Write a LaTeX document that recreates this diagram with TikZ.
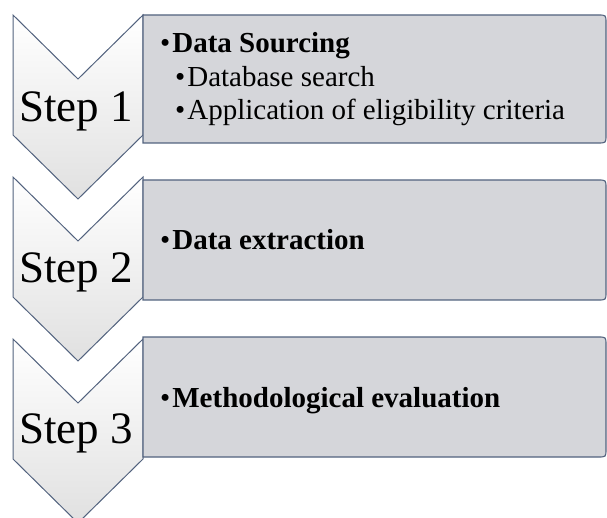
\documentclass[tikz,border=0pt]{standalone}
\usepackage{fontspec}
\setmainfont{Liberation Serif}
\definecolor{edge}{HTML}{52627E}
\definecolor{panel}{HTML}{D5D6DA}
\tikzset{
  chev/.style={draw=edge, line width=1pt, top color=white, middle color=white, bottom color=black!12, line join=miter},
  panelbox/.style={draw=edge, line width=1.1pt, fill=panel},
  steplabel/.style={font=\fontsize{45}{50}\selectfont, inner sep=0pt, anchor=base},
  itemtext/.style={font=\fontsize{29}{34}\selectfont, inner sep=0pt, anchor=base west},
}
% panel with square left corners and rounded right corners: #1 top, #2 bottom
\newcommand\panelpath[2]{%
  \path[panelbox] (143,#1) -- (598,#1) .. controls (606,#1) .. (606,#1+8)
    -- (606,#2-8) .. controls (606,#2) .. (598,#2) -- (143,#2) -- cycle;}
\begin{document}
\begin{tikzpicture}[x=1pt,y=-1pt]
\useasboundingbox (0,0) rectangle (607,518);
\clip (0,0) rectangle (607,518);
% chevrons
\foreach \t in {15,177,339}{
  \path[chev] (13,\t) -- (78,\t+64) -- (143,\t) -- (143,\t+120)
    -- (78,\t+184) -- (13,\t+120) -- cycle;
}
% panels
\panelpath{15}{143}
\panelpath{180}{300}
\panelpath{337}{457}
% step labels
\node[steplabel] (s1) at (76,122) {Step 1};
\node[steplabel] (s2) at (76,283) {Step 2};
\node[steplabel] (s3) at (76,443) {Step 3};
% panel texts
\node[itemtext] (h1) at (160,53) {\textbullet\kern2pt\textbf{Data Sourcing}};
\node[itemtext] (i1) at (175,87) {\textbullet\kern2pt Database search};
\node[itemtext] (i2) at (175,120) {\textbullet\kern2pt Application of eligibility criteria};
\node[itemtext] (h2) at (160,250) {\textbullet\kern2pt\textbf{Data extraction}};
\node[itemtext] (h3) at (160,407) {\textbullet\kern2pt\textbf{Methodological evaluation}};
\end{tikzpicture}
\end{document}
